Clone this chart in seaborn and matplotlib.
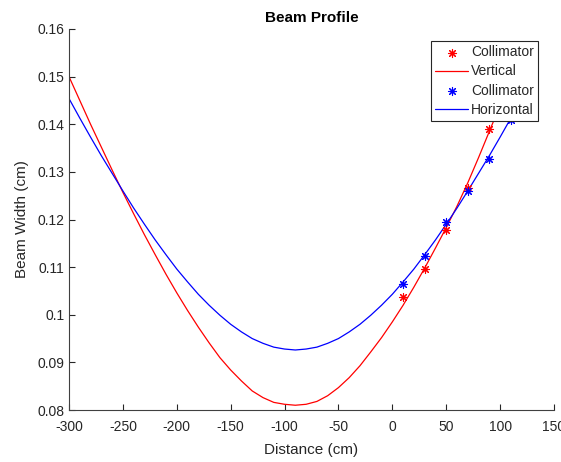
import matplotlib
matplotlib.use("Agg")
import matplotlib.pyplot as plt
import seaborn as sns

# Measured collimator points
pt_x = [10, 30, 50, 70, 90, 110]
vert_pts = [0.1038, 0.1096, 0.1179, 0.1267, 0.1389]
horz_pts = [0.1064, 0.1124, 0.1195, 0.1260, 0.1326, 0.1409]

# Fitted curves
fit_x = [-300, -290, -280, -270, -260, -250, -240, -230, -220, -210, -200, -190,
         -180, -170, -160, -150, -140, -130, -120, -110, -100, -90, -80, -70,
         -60, -50, -40, -30, -20, -10, 0, 10, 20, 30, 40, 50, 60, 70, 80, 90,
         100, 110]
vert_fit = [0.1500, 0.1450, 0.1400, 0.1352, 0.1304, 0.1257, 0.1212, 0.1168, 0.1126,
            0.1085, 0.1046, 0.1009, 0.0974, 0.0941, 0.0910, 0.0884, 0.0861, 0.0840,
            0.0826, 0.0816, 0.0812, 0.0810, 0.0812, 0.0818, 0.0830, 0.0847, 0.0868,
            0.0893, 0.0922, 0.0952, 0.0985, 0.1020, 0.1058, 0.1098, 0.1140, 0.1183,
            0.1228, 0.1277, 0.1330, 0.1385, 0.1440, 0.1495]
horz_fit = [0.1454, 0.1413, 0.1373, 0.1334, 0.1297, 0.1260, 0.1224, 0.1190, 0.1157,
            0.1126, 0.1096, 0.1069, 0.1043, 0.1020, 0.0999, 0.0980, 0.0964, 0.0950,
            0.0940, 0.0932, 0.0928, 0.0926, 0.0928, 0.0932, 0.0940, 0.0950, 0.0964,
            0.0980, 0.0999, 0.1020, 0.1043, 0.1069, 0.1096, 0.1126, 0.1157, 0.1190,
            0.1224, 0.1260, 0.1297, 0.1334, 0.1373, 0.1413]

title = "Beam Profile"
xlabel = "Distance (cm)"
ylabel = "Beam Width (cm)"
xticks = [-300, -250, -200, -150, -100, -50, 0, 50, 100, 150]
yticks = [0.08, 0.09, 0.10, 0.11, 0.12, 0.13, 0.14, 0.15, 0.16]
ytick_labels = ["0.08", "0.09", "0.1", "0.11", "0.12", "0.13", "0.14", "0.15", "0.16"]

sns.set_style("ticks")
plt.rcParams["font.family"] = ["Liberation Sans", "DejaVu Sans"]
dark = "#262626"

fig = plt.figure(figsize=(5.61, 4.62), dpi=100)
ax = fig.add_axes([69 / 561, 52 / 462, 485 / 561, 381 / 462])

ast = (8, 2, 0)
sns.scatterplot(x=pt_x[:len(vert_pts)], y=vert_pts, ax=ax, marker=ast, color="#ff0000",
                s=34, linewidth=0.8, edgecolor="#ff0000", label="Collimator", zorder=3)
sns.lineplot(x=fit_x, y=vert_fit, ax=ax, color="#ff0000", linewidth=0.9,
             sort=False, estimator=None, label="Vertical")
sns.scatterplot(x=pt_x, y=horz_pts, ax=ax, marker=ast, color="#0000ff",
                s=34, linewidth=0.8, edgecolor="#0000ff", label="Collimator", zorder=3)
sns.lineplot(x=fit_x, y=horz_fit, ax=ax, color="#0000ff", linewidth=0.9,
             sort=False, estimator=None, label="Horizontal")

ax.set_xlim(-300, 150)
ax.set_ylim(0.08, 0.16)
ax.set_xticks(xticks)
ax.set_xticklabels([str(t) for t in xticks])
ax.set_yticks(yticks)
ax.set_yticklabels(ytick_labels)
ax.tick_params(direction="in", length=4, width=0.8, colors=dark, labelsize=10,
               labelcolor=dark)
ax.tick_params(axis="x", pad=7)
for side in ["top", "right"]:
    ax.spines[side].set_visible(False)
for side in ["left", "bottom"]:
    ax.spines[side].set_color("#404040")
    ax.spines[side].set_linewidth(0.8)

ax.set_title(title, fontsize=11, fontweight="bold", color="black", pad=5)
ax.set_xlabel(xlabel, fontsize=11, color=dark, labelpad=7)
ax.set_ylabel(ylabel, fontsize=11, color=dark, labelpad=6)

leg = ax.legend(loc="upper right", bbox_to_anchor=(0.967, 0.968), fontsize=10,
                frameon=True, fancybox=False, framealpha=1, edgecolor="#262626",
                handlelength=2.4, handletextpad=0.2, borderpad=0.3,
                labelspacing=0.37, borderaxespad=0.0)
leg.get_frame().set_linewidth(0.8)
for t in leg.get_texts():
    t.set_color(dark)

fig.savefig("out.png", dpi=100)
